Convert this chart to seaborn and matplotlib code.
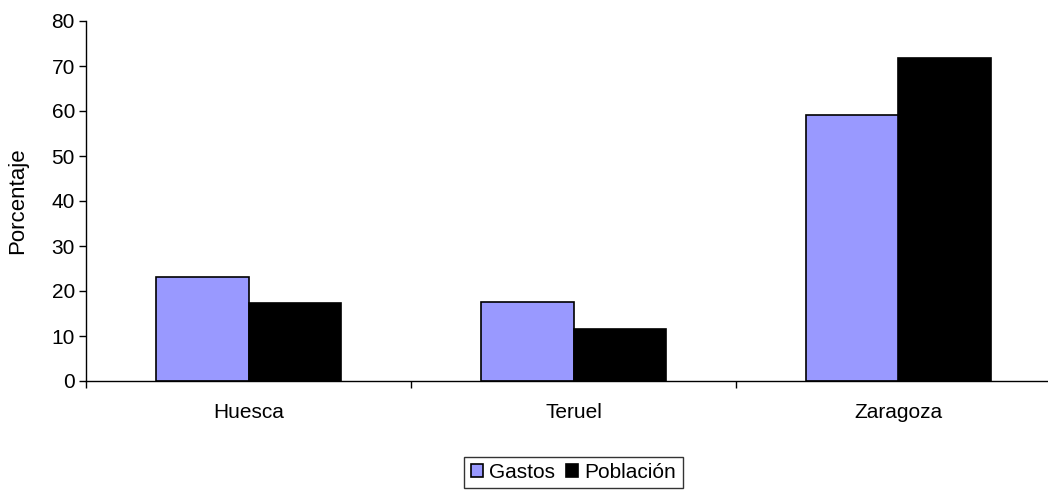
import pandas as pd
import matplotlib.pyplot as plt
import seaborn as sns

sns.set_style("white")
plt.rcParams["font.family"] = ["Liberation Sans", "DejaVu Sans"]
plt.rcParams["text.color"] = "black"
plt.rcParams["axes.labelcolor"] = "black"
plt.rcParams["xtick.color"] = "black"
plt.rcParams["ytick.color"] = "black"

provincias = ["Huesca", "Teruel", "Zaragoza"]
gastos = [23.2, 17.6, 59.1]
poblacion = [17.4, 11.6, 71.7]

df = pd.DataFrame({
    "Provincia": provincias * 2,
    "Serie": ["Gastos"] * 3 + ["Población"] * 3,
    "Valor": gastos + poblacion,
})

fig = plt.figure(figsize=(10.48, 4.92), dpi=100)
ax = fig.add_axes([86 / 1048, 1 - 381 / 492, 975 / 1048, 360 / 492])

sns.barplot(
    data=df, x="Provincia", y="Valor", hue="Serie",
    palette=["#9999FF", "#000000"], width=0.572, saturation=1,
    edgecolor="black", linewidth=1.2, ax=ax,
)

ax.set_ylim(0, 80)
ax.set_xlim(-0.5, 2.5)
ax.set_yticks(range(0, 81, 10))
ax.set_xlabel("")
ax.set_ylabel("Porcentaje", fontsize=16, labelpad=17)
ax.tick_params(axis="both", labelsize=15)
ax.tick_params(axis="y", left=True, length=5, width=1, pad=3)
ax.tick_params(axis="x", bottom=False, pad=12)
ax.set_xticks([-0.5, 0.5, 1.5, 2.5], minor=True)
ax.tick_params(axis="x", which="minor", bottom=True, length=5, width=1)

for side in ["top", "right"]:
    ax.spines[side].set_visible(False)
for side in ["left", "bottom"]:
    ax.spines[side].set_color("black")
    ax.spines[side].set_linewidth(1)

ax.legend(
    loc="upper center", bbox_to_anchor=(0.5, -0.21), ncol=2,
    frameon=True, fontsize=15, fancybox=False, edgecolor="black",
    handlelength=0.6, handleheight=0.6, handletextpad=0.3,
    columnspacing=0.5, borderpad=0.3, borderaxespad=0,
)

plt.savefig("out.png", dpi=100)
